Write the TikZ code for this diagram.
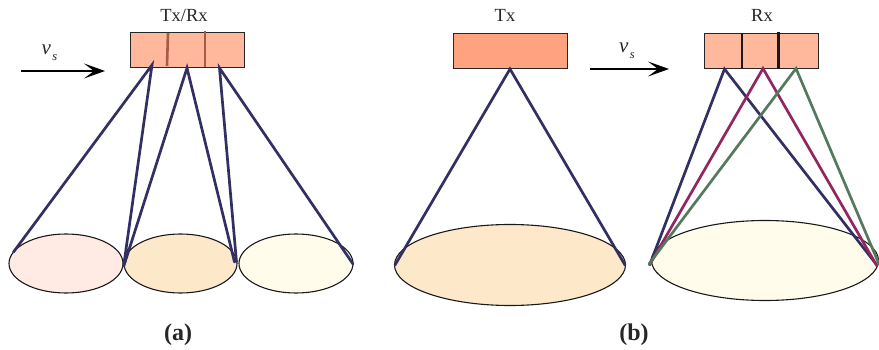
\documentclass[tikz,border=0pt]{standalone}
\usepackage{fontspec}
\setmainfont{Liberation Serif}
\usetikzlibrary{arrows.meta,shapes.geometric}
\definecolor{navybeam}{HTML}{322F62}
\definecolor{crimsonbeam}{HTML}{92265F}
\definecolor{greenbeam}{HTML}{55795F}
\definecolor{arraylight}{HTML}{FFB89C}
\definecolor{arraydark}{HTML}{FFA27F}
\definecolor{dividerbrown}{HTML}{A85C44}
\definecolor{spotpink}{HTML}{FFEBE3}
\definecolor{spotorange}{HTML}{FEE8CA}
\definecolor{spotyellow}{HTML}{FFFCEB}
\newcommand{\velsym}{{\fontsize{21}{22}\selectfont\itshape v\hspace{1.5pt}\raisebox{-6pt}{\fontsize{12.5}{13}\selectfont s}}}
\tikzset{
  arraybox/.style={draw=black!85,line width=1pt,minimum width=114pt,minimum height=35pt,inner sep=0pt,outer sep=0pt},
  spot/.style={draw=black!90,line width=1.1pt,inner sep=0pt,outer sep=0pt,ellipse},
  beam/.style={line width=2.7pt,line cap=round},
  divider/.style={line width=2.6pt},
  motion/.style={line width=1.2pt,-{Stealth[length=21pt,width=15pt,inset=10pt]}},
  txtlabel/.style={inner sep=0pt,font=\fontsize{18.5}{20}\selectfont,text=black!85},
  captext/.style={inner sep=0pt,font=\fontsize{24}{26}\selectfont\bfseries,text=black!85}
}
\begin{document}
\begin{tikzpicture}[x=1pt,y=-1pt]
\useasboundingbox (0,0) rectangle (879,350);
% panel (a)
\node[arraybox,fill=arraylight] (boxa) at (187.5,50.5) {};
\node[txtlabel] (ta) at (184,15) {Tx/Rx};
\draw[divider,dividerbrown] (168,33) -- (167,66);
\draw[divider,dividerbrown] (205,31) -- (205,67);
\node[spot,fill=spotpink,minimum width=114pt,minimum height=59pt] (e1) at (66,263.5) {};
\node[spot,fill=spotorange,minimum width=113pt,minimum height=59pt] (e2) at (180.5,263.5) {};
\node[spot,fill=spotyellow,minimum width=114pt,minimum height=59pt] (e3) at (296,263.5) {};
\coordinate (a1) at (152,65);
\coordinate (a2) at (187,68);
\coordinate (a3) at (219.5,68);
\coordinate (p1) at (13.5,252);
\coordinate (p2) at (123.5,267);
\coordinate (p3) at (234.5,262);
\coordinate (p4) at (236.5,262);
\coordinate (p5) at (353,264);
\draw[beam,navybeam] (p1) -- (a1) -- (p2) -- (a2) -- (p3);
\draw[beam,navybeam] (p4) -- (a3) -- (p5);
\coordinate (va1) at (21,71);
\coordinate (va2) at (105,71);
\draw[motion] (va1) -- (va2);
\node[txtlabel] (vsa) at (49.5,53) {\velsym};
\node[captext] (capa) at (178,335) {(a)};
% panel (b) Tx
\node[arraybox,fill=arraydark] (boxt) at (510,51.5) {};
\node[txtlabel] (tb) at (505,15) {Tx};
\node[spot,fill=spotorange,minimum width=231pt,minimum height=81pt] (e4) at (510,265) {};
\coordinate (t0) at (510,69);
\coordinate (t1) at (395,265);
\coordinate (t2) at (625,265);
\draw[beam,navybeam] (t1) -- (t0) -- (t2);
% panel (b) Rx
\node[arraybox,fill=arraylight] (boxr) at (761,51.5) {};
\node[txtlabel] (tr) at (762,15) {Rx};
\draw[divider,black!90] (742,33.5) -- (742,69.5);
\draw[divider,black!90] (778.5,32) -- (778.5,69);
\node[spot,fill=spotyellow,minimum width=227pt,minimum height=80pt] (e5) at (765,260.5) {};
\coordinate (r1) at (724.5,69);
\coordinate (r2) at (763,68.5);
\coordinate (r3) at (796,68.5);
\coordinate (l1) at (650,264);
\coordinate (l2) at (649.5,265);
\coordinate (l3) at (649,264);
\coordinate (h1) at (876,264);
\coordinate (h2) at (877,266);
\coordinate (h3) at (879,264);
\draw[beam,navybeam] (l1) -- (r1) -- (h1);
\draw[beam,crimsonbeam] (l2) -- (r2) -- (h2);
\draw[beam,greenbeam] (l3) -- (r3) -- (h3);
\coordinate (vb1) at (590,69);
\coordinate (vb2) at (669,69);
\draw[motion] (vb1) -- (vb2);
\node[txtlabel] (vsb) at (627,51) {\velsym};
\node[captext] (capb) at (634,335) {(b)};
\end{tikzpicture}
\end{document}
